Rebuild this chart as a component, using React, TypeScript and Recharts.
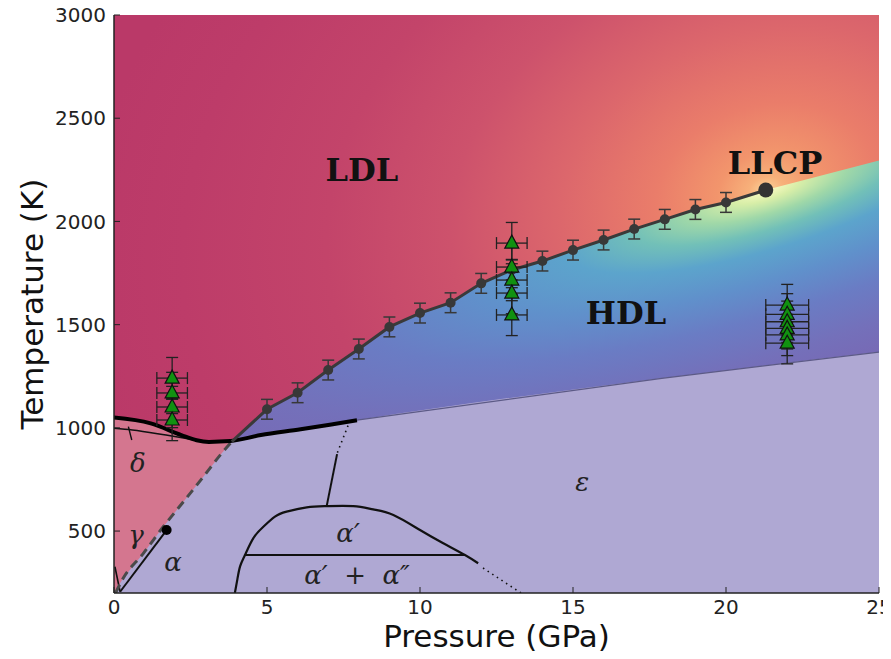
import React from "react";
import {
  ComposedChart,
  XAxis,
  YAxis,
  Line,
  Area,
  Scatter,
  ErrorBar,
  ReferenceArea,
  ReferenceDot,
} from "recharts";

// liquid-liquid coexistence line (simulation), K
const COEX_P = [5, 6, 7, 8, 9, 10, 11, 12, 13, 14, 15, 16, 17, 18, 19, 20];
const COEX_T = [1090, 1170, 1280, 1382, 1489, 1556, 1606, 1700, 1765, 1808, 1861, 1910, 1963, 2010, 2058, 2092];
const COEX_ERR = 48;
const LLCP_P = 21.3;
const LLCP_T = 2152;
// continuation beyond the critical point
const WIDOM_P = [21.3, 25];
const WIDOM_T = [2152, 2295];

// metastable extension of the coexistence line (dashed)
const DASH_P = [0.05, 0.3, 0.96, 1.61, 2.27, 2.92, 3.52, 3.85];
const DASH_T = [200, 271, 392, 521, 642, 763, 877, 933];

// melting line
const MELT_P = [0, 1.2, 2.2, 2.7, 3.1, 3.8, 4.8, 6.1, 7.2, 7.94];
const MELT_T = [1050, 1022, 965, 940, 932, 936, 965, 993, 1019, 1037];
const SOLID_P = [7.94, 17.9, 25];
const SOLID_T = [1037, 1240, 1367];

// delta / gamma phase region (left of dashed line, below melting line)
const PINK_P = [0, 0.3, 0.96, 1.61, 2.27, 2.92, 3.52, 3.85];
const PINK_LO = [200, 271, 392, 521, 642, 763, 877, 933];
const PINK_HI = [1050, 1043, 1028, 1000, 962, 935, 933, 936];

// solid phase boundaries
const DELTA_P = [0, 0.6, 1.7, 2.7];
const DELTA_T = [998, 990, 965, 940];
const DG_P = [0.47, 0.58];
const DG_T = [1006, 941];
const GA_P = [0.03, 0.2];
const GA_T = [327, 206];
const ALPHA_P = [0.2, 1.72];
const ALPHA_T = [206, 505];
const DOME_P = [3.95, 4.03, 4.12, 4.28, 4.55, 4.88, 5.26, 5.64, 6.3, 6.95, 7.82, 8.47, 9.13, 10.0, 10.76, 11.47, 11.9];
const DOME_T = [200, 265, 329, 384, 465, 521, 570, 594, 615, 621, 621, 605, 578, 505, 441, 384, 344];
const TAIL_P = [12.06, 13.3];
const TAIL_T = [321, 200];
const TIE_P = [4.28, 11.47];
const TIE_T = [384, 384];
const STEM_P = [6.95, 7.29];
const STEM_T = [621, 873];
const STEMDOT_P = [7.3, 7.7];
const STEMDOT_T = [880, 1030];

// experiments (green triangles)
const EXP1_P = 1.9;
const EXP1_T = [1241, 1169, 1101, 1038];
const EXP2_P = 13;
const EXP2_T = [1895, 1779, 1716, 1653, 1547];
const EXP3_P = 22;
const EXP3_T = [1595, 1550, 1514, 1482, 1450, 1410];

const X_TICKS = [0, 5, 10, 15, 20, 25];
const Y_TICKS = [500, 1000, 1500, 2000, 2500, 3000];

const pts = (p: number[], t: number[]) => p.map((P, i) => ({ P, T: t[i] }));

const hdlData = [...pts(DASH_P, DASH_T), ...pts(COEX_P, COEX_T), ...pts(WIDOM_P, WIDOM_T)];
const solidData = [...pts(MELT_P, MELT_T), ...pts(SOLID_P.slice(1), SOLID_T.slice(1))];
const pinkData = PINK_P.map((P, i) => ({ P, range: [PINK_LO[i], PINK_HI[i]] }));
const coexLine = [{ P: 3.85, T: 933 }, ...pts(COEX_P, COEX_T), { P: LLCP_P, T: LLCP_T }];
const coexPts = COEX_P.map((P, i) => ({ P, T: COEX_T[i], ey: COEX_ERR }));
const expPts = (P: number, ts: number[], ex: number) => ts.map((T) => ({ P, T, ex, ey: 100 }));

const SERIF = "DejaVu Serif";
const SANS = "DejaVu Sans";

const textAt = (value: string, style: any) => (props: any) => {
  const vb = props.viewBox;
  return (
    <text
      x={vb.x + vb.width / 2}
      y={vb.y + vb.height / 2}
      textAnchor="middle"
      dominantBaseline="central"
      fill="#111"
      style={{ whiteSpace: "pre" }}
      {...style}
    >
      {value}
    </text>
  );
};

const bold = { fontFamily: SERIF, fontWeight: 700, fontSize: 32 };
const greek = { fontFamily: SERIF, fontStyle: "italic", fontSize: 26, fill: "#222" };

const Tri = (props: any) => {
  const { cx, cy } = props;
  return (
    <polygon
      points={`${cx},${cy - 8} ${cx - 7},${cy + 5} ${cx + 7},${cy + 5}`}
      fill="#119111"
      stroke="#111"
      strokeWidth={1.2}
    />
  );
};
const Dot = (r: number, fill: string) => (props: any) => (
  <circle cx={props.cx} cy={props.cy} r={r} fill={fill} />
);

const line = (data: any[], stroke: string, width: number, extra: any = {}) => (
  <Line
    data={data}
    dataKey="T"
    type="linear"
    stroke={stroke}
    strokeWidth={width}
    dot={false}
    activeDot={false}
    isAnimationActive={false}
    legendType="none"
    {...extra}
  />
);

export default function App() {
  return (
    <div style={{ width: 891, height: 659, margin: "-8px 0 0 -8px" }}>
      <ComposedChart width={891} height={659} margin={{ top: 15, right: 12, bottom: 0, left: 0 }}>
        <defs>
          <radialGradient
            id="ldl"
            gradientUnits="userSpaceOnUse"
            cx={766}
            cy={190}
            r={700}
            gradientTransform="translate(766 190) rotate(-17) scale(1 0.75) translate(-766 -190)"
          >
            <stop offset="0" stopColor="#fbd49a" />
            <stop offset="0.025" stopColor="#f7b07a" />
            <stop offset="0.07" stopColor="#f2956c" />
            <stop offset="0.16" stopColor="#ea7d6a" />
            <stop offset="0.3" stopColor="#dc676c" />
            <stop offset="0.46" stopColor="#cd526c" />
            <stop offset="0.64" stopColor="#c3446a" />
            <stop offset="0.85" stopColor="#bd3c69" />
            <stop offset="1" stopColor="#ba3968" />
          </radialGradient>
          <radialGradient
            id="hdl"
            gradientUnits="userSpaceOnUse"
            cx={766}
            cy={190}
            r={700}
            gradientTransform="translate(766 190) rotate(-17) scale(1 0.28) translate(-766 -190)"
          >
            <stop offset="0" stopColor="#fbfbc4" />
            <stop offset="0.05" stopColor="#d8eea8" />
            <stop offset="0.12" stopColor="#a0d8a8" />
            <stop offset="0.2" stopColor="#72c0b8" />
            <stop offset="0.3" stopColor="#5ca4cc" />
            <stop offset="0.45" stopColor="#6090cb" />
            <stop offset="0.62" stopColor="#6a7cc4" />
            <stop offset="0.82" stopColor="#7470ba" />
            <stop offset="1" stopColor="#7868b4" />
          </radialGradient>
        </defs>

        <XAxis
          type="number"
          dataKey="P"
          domain={[0, 25]}
          ticks={X_TICKS}
          interval={0}
          allowDataOverflow
          height={66}
          tickSize={-6}
          tickMargin={13}
          axisLine={{ stroke: "#222", strokeWidth: 1.5 }}
          tickLine={{ stroke: "#222" }}
          tick={{ fill: "#222", fontSize: 20, fontFamily: SANS }}
          label={{
            content: (p: any) => (
              <text
                x={p.viewBox.x + p.viewBox.width / 2}
                y={636}
                textAnchor="middle"
                dominantBaseline="central"
                fontFamily={SANS}
                fontSize={31}
                fill="#111"
              >
                Pressure (GPa)
              </text>
            ),
          }}
        />
        <YAxis
          type="number"
          domain={[200, 3000]}
          ticks={Y_TICKS}
          interval={0}
          allowDataOverflow
          width={114}
          tickSize={-6}
          tickMargin={14}
          axisLine={{ stroke: "#222", strokeWidth: 1.5 }}
          tickLine={{ stroke: "#222" }}
          tick={{ fill: "#222", fontSize: 20, fontFamily: SANS }}
          label={{
            content: (p: any) => {
              const cy = p.viewBox.y + p.viewBox.height / 2;
              return (
                <text
                  x={32}
                  y={cy}
                  transform={`rotate(-90 32 ${cy})`}
                  textAnchor="middle"
                  dominantBaseline="central"
                  fontFamily={SANS}
                  fontSize={31}
                  fill="#111"
                >
                  Temperature (K)
                </text>
              );
            },
          }}
        />
        <XAxis
          xAxisId="top"
          orientation="top"
          type="number"
          domain={[0, 25]}
          ticks={[5, 10, 15, 20]}
          height={0}
          mirror
          tick={false}
          tickSize={6}
          axisLine={{ stroke: "#222", strokeWidth: 1.5 }}
          tickLine={{ stroke: "#222" }}
        />
        <YAxis
          yAxisId="right"
          orientation="right"
          type="number"
          domain={[200, 3000]}
          ticks={[500, 1000, 1500, 2000, 2500]}
          width={0}
          mirror
          tick={false}
          tickSize={6}
          axisLine={{ stroke: "#222", strokeWidth: 1.5 }}
          tickLine={{ stroke: "#222" }}
        />

        <ReferenceArea x1={0} x2={25} y1={200} y2={3000} fill="url(#ldl)" fillOpacity={1} stroke="none" />

        <Area data={hdlData} dataKey="T" type="linear" baseValue={200} fill="url(#hdl)" fillOpacity={1} stroke="none" isAnimationActive={false} activeDot={false} />
        <Area data={solidData} dataKey="T" type="monotone" baseValue={200} fill="#afa8d3" fillOpacity={1} stroke="none" isAnimationActive={false} activeDot={false} />
        <Area data={pinkData} dataKey="range" type="linear" fill="#d4768f" fillOpacity={1} stroke="none" isAnimationActive={false} activeDot={false} />

        {line(pts(SOLID_P, SOLID_T), "#5c5a86", 1.2)}
        {line(pts(DELTA_P, DELTA_T), "#111", 1.6, { type: "monotone" })}
        {line(pts(DG_P, DG_T), "#111", 1.4)}
        {line(pts(GA_P, GA_T), "#111", 1.6)}
        {line(pts(ALPHA_P, ALPHA_T), "#111", 2)}
        {line(pts(DOME_P, DOME_T), "#111", 2.2, { type: "natural" })}
        {line(pts(TIE_P, TIE_T), "#111", 2)}
        {line(pts(STEM_P, STEM_T), "#111", 2)}
        {line(pts(STEMDOT_P, STEMDOT_T), "#111", 1.6, { strokeDasharray: "1.5 4" })}
        {line(pts(TAIL_P, TAIL_T), "#111", 1.6, { strokeDasharray: "1.5 4" })}
        {line(pts(DASH_P, DASH_T), "#4a4a4a", 3, { type: "monotone", strokeDasharray: "9 6" })}
        {line(pts(MELT_P, MELT_T), "#000", 4, { type: "monotone" })}
        {line(coexLine, "#3a3a3a", 3)}

        <Scatter data={coexPts} dataKey="T" shape={Dot(5, "#383838")} isAnimationActive={false} legendType="none">
          <ErrorBar dataKey="ey" direction="y" width={6} stroke="#383838" strokeWidth={1.5} />
        </Scatter>
        <Scatter data={[{ P: LLCP_P, T: LLCP_T }]} dataKey="T" shape={Dot(7.5, "#333")} isAnimationActive={false} legendType="none" />
        <Scatter data={[{ P: ALPHA_P[1], T: ALPHA_T[1] }]} dataKey="T" shape={Dot(5, "#000")} isAnimationActive={false} legendType="none" />

        {[
          expPts(EXP1_P, EXP1_T, 0.5),
          expPts(EXP2_P, EXP2_T, 0.5),
          expPts(EXP3_P, EXP3_T, 0.7),
        ].map((d, i) => (
          <Scatter key={i} data={d} dataKey="T" shape={Tri} isAnimationActive={false} legendType="none">
            <ErrorBar dataKey="ex" direction="x" width={6} stroke="#222" strokeWidth={1.3} />
            <ErrorBar dataKey="ey" direction="y" width={6} stroke="#222" strokeWidth={1.3} />
          </Scatter>
        ))}

        <ReferenceDot x={8.1} y={2249} r={0} stroke="none" label={textAt("LDL", bold)} />
        <ReferenceDot x={16.73} y={1556} r={0} stroke="none" label={textAt("HDL", bold)} />
        <ReferenceDot x={21.6} y={2283} r={0} stroke="none" label={textAt("LLCP", bold)} />
        <ReferenceDot x={0.78} y={830} r={0} stroke="none" label={textAt("δ", greek)} />
        <ReferenceDot x={0.72} y={481} r={0} stroke="none" label={textAt("γ", greek)} />
        <ReferenceDot x={1.93} y={350} r={0} stroke="none" label={textAt("α", greek)} />
        <ReferenceDot x={15.3} y={738} r={0} stroke="none" label={textAt("ε", greek)} />
        <ReferenceDot x={7.65} y={491} r={0} stroke="none" label={textAt("α′", greek)} />
        <ReferenceDot x={7.94} y={287} r={0} stroke="none" label={textAt("α′  +  α″", greek)} />
      </ComposedChart>
    </div>
  );
}
